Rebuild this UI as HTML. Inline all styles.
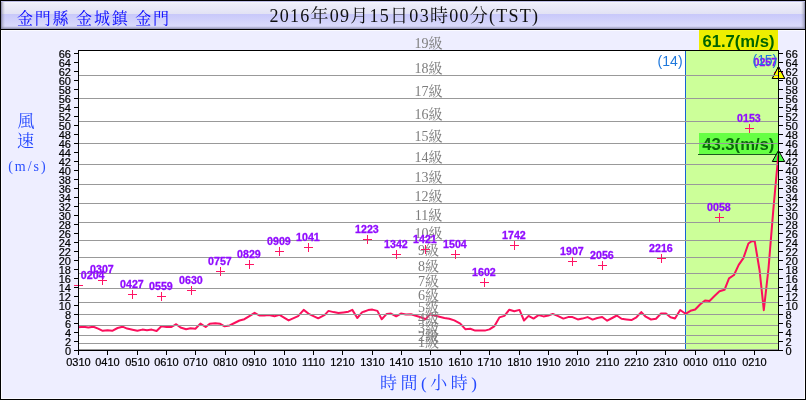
<!DOCTYPE html>
<html><head><meta charset="utf-8"><title>Wind speed chart</title>
<style>
html,body{margin:0;padding:0;background:#fff;}
body{width:806px;height:400px;overflow:hidden;font-family:"Liberation Sans",sans-serif;}
svg{will-change:transform;}
svg text{font-family:"Liberation Sans",sans-serif;}
svg text.cjk{font-family:"Liberation Serif","Noto Serif CJK SC","Noto Sans CJK TC",serif;}
</style></head><body>
<svg width="806" height="400" viewBox="0 0 806 400" style="display:block">
<defs>
<linearGradient id="hd" x1="0" y1="0" x2="0" y2="1" gradientUnits="objectBoundingBox">
<stop offset="0" stop-color="#bcbce6"/>
<stop offset="0.036" stop-color="#bcbce6"/>
<stop offset="0.037" stop-color="#f6f6fc"/>
<stop offset="0.10" stop-color="#eeeefa"/>
<stop offset="0.464" stop-color="#e2e2f4"/>
<stop offset="0.465" stop-color="#c8c8fa"/>
<stop offset="0.90" stop-color="#dadafb"/>
<stop offset="0.93" stop-color="#c0c0e2"/>
<stop offset="1" stop-color="#8c8cac"/>
</linearGradient>
<linearGradient id="bl" x1="0" y1="0" x2="1" y2="0">
<stop offset="0" stop-color="#7878a0" stop-opacity="0.9"/>
<stop offset="0.4" stop-color="#9090a8" stop-opacity="0.45"/>
<stop offset="1" stop-color="#a0a0b0" stop-opacity="0"/>
</linearGradient>
<linearGradient id="br" x1="1" y1="0" x2="0" y2="0">
<stop offset="0" stop-color="#7878a0" stop-opacity="0.9"/>
<stop offset="0.4" stop-color="#9090a8" stop-opacity="0.45"/>
<stop offset="1" stop-color="#a0a0b0" stop-opacity="0"/>
</linearGradient>
</defs>
<rect x="0" y="0" width="806" height="400" fill="#000"/>
<rect x="1" y="1" width="804" height="398" fill="#eeeeff"/>
<rect x="1" y="1" width="804" height="28" fill="url(#hd)"/>
<rect x="1" y="2" width="4" height="27" fill="url(#bl)"/>
<rect x="801" y="2" width="4" height="27" fill="url(#br)"/>
<rect x="0" y="29" width="806" height="1" fill="#000"/>
<rect x="1" y="30" width="804" height="1" fill="#fafaff"/>
<rect x="1" y="30" width="1" height="369" fill="#fafaff"/>
<rect x="804" y="30" width="1" height="369" fill="#fafaff"/>
<rect x="1" y="398" width="804" height="1" fill="#fafaff"/>
<g shape-rendering="crispEdges">
<rect x="78" y="50" width="701" height="301" fill="#fff"/>
<rect x="686" y="51" width="92" height="299" fill="#ccff99"/>
<rect x="685" y="51" width="1" height="299" fill="#1464d2"/>
<rect x="699" y="30" width="79" height="20" fill="#eeee00"/>
<rect x="699" y="133" width="79" height="21" fill="#66ff44"/>
<rect x="698" y="154" width="80" height="1" fill="#1e5a1e"/>
</g>
<g font-family="'Liberation Sans', sans-serif" font-weight="bold" font-size="16px" fill="#006400">
<text x="702.5" y="47.1" textLength="72" lengthAdjust="spacingAndGlyphs">61.7(m/s)</text>
<text x="702.2" y="150.1" textLength="72.2" lengthAdjust="spacingAndGlyphs" fill="#0a6a0a">43.3(m/s)</text>
</g>
<polygon points="778.5,66.5 772.3,78.5 784.7,78.5" fill="#ffff00" stroke="#000" stroke-width="1"/>
<polygon points="778.5,150.5 772.3,161.5 784.7,161.5" fill="#44ff44" stroke="#000" stroke-width="1"/>
<polyline fill="none" stroke="#fb0f5c" stroke-width="2" stroke-linejoin="round" stroke-linecap="butt" points="78.7,327.3 83.4,326.8 88.4,327.6 93.4,326.8 98.1,328.6 102.7,330.8 107.6,330.2 112.2,330.8 117.6,328.0 122.5,326.7 127.1,328.6 132.5,329.8 137.4,330.8 142.4,329.6 147.0,330.2 151.7,329.6 156.6,331.0 161.4,326.3 166.6,327.0 171.5,327.0 176.2,324.2 180.5,327.5 186.1,329.2 190.5,328.3 195.4,328.8 200.4,323.6 205.7,327.0 209.7,323.8 215.3,323.2 220.2,323.8 224.6,326.3 229.6,325.4 234.5,323.0 239.5,320.5 244.4,319.2 249.4,316.1 254.6,312.8 259.3,315.5 264.3,315.5 269.0,315.1 274.5,316.3 279.5,314.9 288.6,320.4 298.1,316.1 303.7,309.9 309.3,314.2 318.2,318.3 324.8,314.9 328.5,310.9 333.5,312.1 338.4,313.1 343.4,312.4 348.4,311.7 352.3,309.9 357.3,318.0 362.0,312.4 363.7,311.7 368.1,310.1 372.4,309.6 377.4,310.9 381.7,319.2 386.7,313.9 391.0,313.6 396.2,316.3 400.9,313.6 405.9,314.6 410.9,314.2 415.8,315.8 420.8,317.3 425.8,319.2 430.1,314.2 434.4,315.5 439.4,316.7 444.4,318.0 449.3,318.8 454.3,320.4 460.3,323.6 465.3,329.2 470.3,328.8 475.2,330.6 480.2,330.6 484.8,330.6 489.5,329.4 494.5,326.1 499.4,317.4 504.4,315.9 509.3,309.7 514.3,311.2 519.5,309.9 524.0,320.5 528.6,315.9 533.5,318.6 538.5,315.1 543.5,316.4 548.4,315.5 552.8,313.9 558.2,316.1 563.4,318.6 568.1,317.1 572.5,317.1 577.8,319.4 582.4,318.6 587.6,317.1 592.6,319.6 597.3,318.0 602.2,317.0 607.2,320.7 612.2,318.0 616.8,315.5 621.5,318.8 626.4,319.4 631.4,320.1 636.4,317.3 641.3,312.1 645.7,316.7 651.0,319.5 656.0,318.8 661.0,313.5 666.0,313.5 670.5,317.2 675.0,318.5 680.2,310.0 685.5,313.8 690.5,310.8 695.2,309.5 700.0,304.5 705.0,300.5 709.5,301.0 715.0,295.5 719.5,291.2 724.5,289.8 729.0,278.4 734.0,275.0 738.7,264.9 743.4,258.1 748.4,243.5 751.8,241.2 754.7,241.2 759.6,270.5 763.8,310.2 768.5,268.5 773.4,208.8 778.3,155.3"/>
<g shape-rendering="crispEdges" fill="#999999">
<rect x="79" y="75" width="699" height="1"/>
<rect x="79" y="98" width="699" height="1"/>
<rect x="79" y="121" width="699" height="1"/>
<rect x="79" y="143" width="699" height="1"/>
<rect x="79" y="164" width="699" height="1"/>
<rect x="79" y="184" width="699" height="1"/>
<rect x="79" y="203" width="699" height="1"/>
<rect x="79" y="222" width="699" height="1"/>
<rect x="79" y="240" width="699" height="1"/>
<rect x="79" y="257" width="699" height="1"/>
<rect x="79" y="273" width="699" height="1"/>
<rect x="79" y="288" width="699" height="1"/>
<rect x="79" y="302" width="699" height="1"/>
<rect x="79" y="314" width="699" height="1"/>
<rect x="79" y="325" width="699" height="1"/>
<rect x="79" y="335" width="699" height="1"/>
<rect x="79" y="343" width="699" height="1"/>
<rect x="79" y="349" width="699" height="1"/>
</g>
<g font-size="14px" fill="#7d7d7d" text-anchor="middle">
<text class="cjk" x="428.6" y="48.4">19級</text>
<text class="cjk" x="428.6" y="73.4">18級</text>
<text class="cjk" x="428.6" y="96.4">17級</text>
<text class="cjk" x="428.6" y="119.4">16級</text>
<text class="cjk" x="428.6" y="141.4">15級</text>
<text class="cjk" x="428.6" y="162.4">14級</text>
<text class="cjk" x="428.6" y="182.4">13級</text>
<text class="cjk" x="428.6" y="201.4">12級</text>
<text class="cjk" x="428.6" y="220.4">11級</text>
<text class="cjk" x="428.6" y="238.4">10級</text>
<text class="cjk" x="428.4" y="255.4">9級</text>
<text class="cjk" x="428.4" y="271.4">8級</text>
<text class="cjk" x="428.4" y="286.4">7級</text>
<text class="cjk" x="428.4" y="300.4">6級</text>
<text class="cjk" x="428.4" y="312.4">5級</text>
<text class="cjk" x="428.4" y="323.4">4級</text>
<text class="cjk" x="428.4" y="333.4">3級</text>
<text class="cjk" x="428.4" y="341.4">2級</text>
<text class="cjk" x="428.4" y="347.4">1級</text>
</g>
<g shape-rendering="crispEdges" fill="#ff1464">
<rect x="74" y="285" width="9" height="1"/><rect x="78" y="281" width="1" height="9"/>
<rect x="98" y="280" width="9" height="1"/><rect x="102" y="276" width="1" height="9"/>
<rect x="128" y="294" width="9" height="1"/><rect x="132" y="290" width="1" height="9"/>
<rect x="157" y="296" width="9" height="1"/><rect x="161" y="292" width="1" height="9"/>
<rect x="187" y="290" width="9" height="1"/><rect x="191" y="286" width="1" height="9"/>
<rect x="216" y="271" width="9" height="1"/><rect x="220" y="267" width="1" height="9"/>
<rect x="245" y="264" width="9" height="1"/><rect x="249" y="260" width="1" height="9"/>
<rect x="275" y="251" width="9" height="1"/><rect x="279" y="247" width="1" height="9"/>
<rect x="304" y="247" width="9" height="1"/><rect x="308" y="243" width="1" height="9"/>
<rect x="363" y="239" width="9" height="1"/><rect x="367" y="235" width="1" height="9"/>
<rect x="392" y="254" width="9" height="1"/><rect x="396" y="250" width="1" height="9"/>
<rect x="421" y="249" width="9" height="1"/><rect x="425" y="245" width="1" height="9"/>
<rect x="451" y="254" width="9" height="1"/><rect x="455" y="250" width="1" height="9"/>
<rect x="480" y="282" width="9" height="1"/><rect x="484" y="278" width="1" height="9"/>
<rect x="510" y="245" width="9" height="1"/><rect x="514" y="241" width="1" height="9"/>
<rect x="568" y="261" width="9" height="1"/><rect x="572" y="257" width="1" height="9"/>
<rect x="598" y="265" width="9" height="1"/><rect x="602" y="261" width="1" height="9"/>
<rect x="657" y="258" width="9" height="1"/><rect x="661" y="254" width="1" height="9"/>
<rect x="715" y="217" width="9" height="1"/><rect x="719" y="213" width="1" height="9"/>
<rect x="745" y="128" width="9" height="1"/><rect x="749" y="124" width="1" height="9"/>
<rect x="774" y="72" width="9" height="1"/><rect x="778" y="68" width="1" height="9"/>
</g>
<g font-family="'Liberation Sans', sans-serif" font-weight="bold" font-size="10.67px" fill="#900cff" stroke="#900cff" stroke-width="0.3">
<text x="80.8" y="278.7">0204</text>
<text x="101.9" y="272.6" text-anchor="middle">0307</text>
<text x="131.9" y="287.7" text-anchor="middle">0427</text>
<text x="160.9" y="289.7" text-anchor="middle">0559</text>
<text x="190.9" y="283.7" text-anchor="middle">0630</text>
<text x="219.9" y="264.7" text-anchor="middle">0757</text>
<text x="248.9" y="257.7" text-anchor="middle">0829</text>
<text x="278.9" y="244.7" text-anchor="middle">0909</text>
<text x="307.9" y="240.7" text-anchor="middle">1041</text>
<text x="366.9" y="232.7" text-anchor="middle">1223</text>
<text x="395.9" y="247.7" text-anchor="middle">1342</text>
<text x="424.9" y="242.7" text-anchor="middle">1421</text>
<text x="454.9" y="247.7" text-anchor="middle">1504</text>
<text x="483.9" y="275.7" text-anchor="middle">1602</text>
<text x="513.9" y="238.7" text-anchor="middle">1742</text>
<text x="571.9" y="254.7" text-anchor="middle">1907</text>
<text x="601.9" y="258.7" text-anchor="middle">2056</text>
<text x="660.9" y="251.7" text-anchor="middle">2216</text>
<text x="718.9" y="210.7" text-anchor="middle">0058</text>
<text x="748.9" y="121.7" text-anchor="middle">0153</text>
<text x="777.2" y="65.7" text-anchor="end">0257</text>
</g>
<polygon points="778.5,66.5 772.3,78.5 784.7,78.5" fill="#ffff00" stroke="#000" stroke-width="1"/>
<rect x="773" y="75" width="6" height="1" fill="#999" shape-rendering="crispEdges"/>
<g font-family="'Liberation Sans', sans-serif" font-size="14px" fill="#1e78dc">
<text x="657.6" y="65.6" textLength="25" lengthAdjust="spacing">(14)</text>
<text x="752.6" y="64.6" textLength="24.6" lengthAdjust="spacing">(15)</text>
</g>
<g shape-rendering="crispEdges" fill="#000">
<rect x="78" y="50" width="701" height="1"/>
<rect x="78" y="350" width="701" height="1"/>
<rect x="78" y="50" width="1" height="301"/>
<rect x="778" y="50" width="1" height="301"/>
<rect x="74" y="350" width="4" height="1"/><rect x="779" y="350" width="4" height="1"/>
<rect x="74" y="341" width="4" height="1"/><rect x="779" y="341" width="4" height="1"/>
<rect x="74" y="332" width="4" height="1"/><rect x="779" y="332" width="4" height="1"/>
<rect x="74" y="323" width="4" height="1"/><rect x="779" y="323" width="4" height="1"/>
<rect x="74" y="314" width="4" height="1"/><rect x="779" y="314" width="4" height="1"/>
<rect x="74" y="305" width="4" height="1"/><rect x="779" y="305" width="4" height="1"/>
<rect x="74" y="296" width="4" height="1"/><rect x="779" y="296" width="4" height="1"/>
<rect x="74" y="287" width="4" height="1"/><rect x="779" y="287" width="4" height="1"/>
<rect x="74" y="278" width="4" height="1"/><rect x="779" y="278" width="4" height="1"/>
<rect x="74" y="269" width="4" height="1"/><rect x="779" y="269" width="4" height="1"/>
<rect x="74" y="260" width="4" height="1"/><rect x="779" y="260" width="4" height="1"/>
<rect x="74" y="251" width="4" height="1"/><rect x="779" y="251" width="4" height="1"/>
<rect x="74" y="242" width="4" height="1"/><rect x="779" y="242" width="4" height="1"/>
<rect x="74" y="233" width="4" height="1"/><rect x="779" y="233" width="4" height="1"/>
<rect x="74" y="224" width="4" height="1"/><rect x="779" y="224" width="4" height="1"/>
<rect x="74" y="215" width="4" height="1"/><rect x="779" y="215" width="4" height="1"/>
<rect x="74" y="206" width="4" height="1"/><rect x="779" y="206" width="4" height="1"/>
<rect x="74" y="197" width="4" height="1"/><rect x="779" y="197" width="4" height="1"/>
<rect x="74" y="188" width="4" height="1"/><rect x="779" y="188" width="4" height="1"/>
<rect x="74" y="179" width="4" height="1"/><rect x="779" y="179" width="4" height="1"/>
<rect x="74" y="170" width="4" height="1"/><rect x="779" y="170" width="4" height="1"/>
<rect x="74" y="161" width="4" height="1"/><rect x="779" y="161" width="4" height="1"/>
<rect x="74" y="152" width="4" height="1"/><rect x="779" y="152" width="4" height="1"/>
<rect x="74" y="143" width="4" height="1"/><rect x="779" y="143" width="4" height="1"/>
<rect x="74" y="134" width="4" height="1"/><rect x="779" y="134" width="4" height="1"/>
<rect x="74" y="125" width="4" height="1"/><rect x="779" y="125" width="4" height="1"/>
<rect x="74" y="116" width="4" height="1"/><rect x="779" y="116" width="4" height="1"/>
<rect x="74" y="107" width="4" height="1"/><rect x="779" y="107" width="4" height="1"/>
<rect x="74" y="98" width="4" height="1"/><rect x="779" y="98" width="4" height="1"/>
<rect x="74" y="89" width="4" height="1"/><rect x="779" y="89" width="4" height="1"/>
<rect x="74" y="80" width="4" height="1"/><rect x="779" y="80" width="4" height="1"/>
<rect x="74" y="71" width="4" height="1"/><rect x="779" y="71" width="4" height="1"/>
<rect x="74" y="62" width="4" height="1"/><rect x="779" y="62" width="4" height="1"/>
<rect x="74" y="53" width="4" height="1"/><rect x="779" y="53" width="4" height="1"/>
<rect x="78" y="351" width="1" height="4"/>
<rect x="107" y="351" width="1" height="4"/>
<rect x="137" y="351" width="1" height="4"/>
<rect x="166" y="351" width="1" height="4"/>
<rect x="195" y="351" width="1" height="4"/>
<rect x="225" y="351" width="1" height="4"/>
<rect x="254" y="351" width="1" height="4"/>
<rect x="284" y="351" width="1" height="4"/>
<rect x="313" y="351" width="1" height="4"/>
<rect x="342" y="351" width="1" height="4"/>
<rect x="372" y="351" width="1" height="4"/>
<rect x="401" y="351" width="1" height="4"/>
<rect x="430" y="351" width="1" height="4"/>
<rect x="460" y="351" width="1" height="4"/>
<rect x="489" y="351" width="1" height="4"/>
<rect x="519" y="351" width="1" height="4"/>
<rect x="548" y="351" width="1" height="4"/>
<rect x="577" y="351" width="1" height="4"/>
<rect x="607" y="351" width="1" height="4"/>
<rect x="636" y="351" width="1" height="4"/>
<rect x="665" y="351" width="1" height="4"/>
<rect x="695" y="351" width="1" height="4"/>
<rect x="724" y="351" width="1" height="4"/>
<rect x="754" y="351" width="1" height="4"/>
</g>
<g font-family="'Liberation Sans', sans-serif" font-size="11px" fill="#000" stroke="#000" stroke-width="0.2">
<text x="71" y="354.9" text-anchor="end">0</text><text x="785.6" y="354.9">0</text>
<text x="71" y="345.9" text-anchor="end">2</text><text x="785.6" y="345.9">2</text>
<text x="71" y="336.9" text-anchor="end">4</text><text x="785.6" y="336.9">4</text>
<text x="71" y="327.9" text-anchor="end">6</text><text x="785.6" y="327.9">6</text>
<text x="71" y="318.9" text-anchor="end">8</text><text x="785.6" y="318.9">8</text>
<text x="71" y="309.9" text-anchor="end">10</text><text x="785.6" y="309.9">10</text>
<text x="71" y="300.9" text-anchor="end">12</text><text x="785.6" y="300.9">12</text>
<text x="71" y="291.9" text-anchor="end">14</text><text x="785.6" y="291.9">14</text>
<text x="71" y="282.9" text-anchor="end">16</text><text x="785.6" y="282.9">16</text>
<text x="71" y="273.9" text-anchor="end">18</text><text x="785.6" y="273.9">18</text>
<text x="71" y="264.9" text-anchor="end">20</text><text x="785.6" y="264.9">20</text>
<text x="71" y="255.9" text-anchor="end">22</text><text x="785.6" y="255.9">22</text>
<text x="71" y="246.9" text-anchor="end">24</text><text x="785.6" y="246.9">24</text>
<text x="71" y="237.9" text-anchor="end">26</text><text x="785.6" y="237.9">26</text>
<text x="71" y="228.9" text-anchor="end">28</text><text x="785.6" y="228.9">28</text>
<text x="71" y="219.9" text-anchor="end">30</text><text x="785.6" y="219.9">30</text>
<text x="71" y="210.9" text-anchor="end">32</text><text x="785.6" y="210.9">32</text>
<text x="71" y="201.9" text-anchor="end">34</text><text x="785.6" y="201.9">34</text>
<text x="71" y="192.9" text-anchor="end">36</text><text x="785.6" y="192.9">36</text>
<text x="71" y="183.9" text-anchor="end">38</text><text x="785.6" y="183.9">38</text>
<text x="71" y="174.9" text-anchor="end">40</text><text x="785.6" y="174.9">40</text>
<text x="71" y="165.9" text-anchor="end">42</text><text x="785.6" y="165.9">42</text>
<text x="71" y="156.9" text-anchor="end">44</text><text x="785.6" y="156.9">44</text>
<text x="71" y="147.9" text-anchor="end">46</text><text x="785.6" y="147.9">46</text>
<text x="71" y="138.9" text-anchor="end">48</text><text x="785.6" y="138.9">48</text>
<text x="71" y="129.9" text-anchor="end">50</text><text x="785.6" y="129.9">50</text>
<text x="71" y="120.9" text-anchor="end">52</text><text x="785.6" y="120.9">52</text>
<text x="71" y="111.9" text-anchor="end">54</text><text x="785.6" y="111.9">54</text>
<text x="71" y="102.9" text-anchor="end">56</text><text x="785.6" y="102.9">56</text>
<text x="71" y="93.9" text-anchor="end">58</text><text x="785.6" y="93.9">58</text>
<text x="71" y="84.9" text-anchor="end">60</text><text x="785.6" y="84.9">60</text>
<text x="71" y="75.9" text-anchor="end">62</text><text x="785.6" y="75.9">62</text>
<text x="71" y="66.9" text-anchor="end">64</text><text x="785.6" y="66.9">64</text>
<text x="71" y="57.9" text-anchor="end">66</text><text x="785.6" y="57.9">66</text>
<text x="78.5" y="366" text-anchor="middle">0310</text>
<text x="107.5" y="366" text-anchor="middle">0410</text>
<text x="137.5" y="366" text-anchor="middle">0510</text>
<text x="166.5" y="366" text-anchor="middle">0610</text>
<text x="195.5" y="366" text-anchor="middle">0710</text>
<text x="225.5" y="366" text-anchor="middle">0810</text>
<text x="254.5" y="366" text-anchor="middle">0910</text>
<text x="284.5" y="366" text-anchor="middle">1010</text>
<text x="313.5" y="366" text-anchor="middle">1110</text>
<text x="342.5" y="366" text-anchor="middle">1210</text>
<text x="372.5" y="366" text-anchor="middle">1310</text>
<text x="401.5" y="366" text-anchor="middle">1410</text>
<text x="430.5" y="366" text-anchor="middle">1510</text>
<text x="460.5" y="366" text-anchor="middle">1610</text>
<text x="489.5" y="366" text-anchor="middle">1710</text>
<text x="519.5" y="366" text-anchor="middle">1810</text>
<text x="548.5" y="366" text-anchor="middle">1910</text>
<text x="577.5" y="366" text-anchor="middle">2010</text>
<text x="607.5" y="366" text-anchor="middle">2110</text>
<text x="636.5" y="366" text-anchor="middle">2210</text>
<text x="665.5" y="366" text-anchor="middle">2310</text>
<text x="695.5" y="366" text-anchor="middle">0010</text>
<text x="724.5" y="366" text-anchor="middle">0110</text>
<text x="754.5" y="366" text-anchor="middle">0210</text>
</g>
<text class="cjk" x="17" y="24" font-size="16px" fill="#0808ff" textLength="152" lengthAdjust="spacing" xml:space="preserve">金門縣 金城鎮 金門</text>
<text class="cjk" x="269.5" y="22.2" font-size="18px" fill="#101010" textLength="268.5" lengthAdjust="spacing">2016年09月15日03時00分(TST)</text>
<text class="cjk" x="380" y="389" font-size="17px" fill="#2448ff" textLength="97" lengthAdjust="spacing">時間(小時)</text>
<text class="cjk" x="17.5" y="127" font-size="17px" fill="#2448ff">風</text>
<text class="cjk" x="17" y="147" font-size="17px" fill="#2448ff">速</text>
<text class="cjk" x="8.2" y="170.6" font-size="14px" fill="#2c50ff" textLength="37.5" lengthAdjust="spacing">(m/s)</text>
</svg>
</body></html>
